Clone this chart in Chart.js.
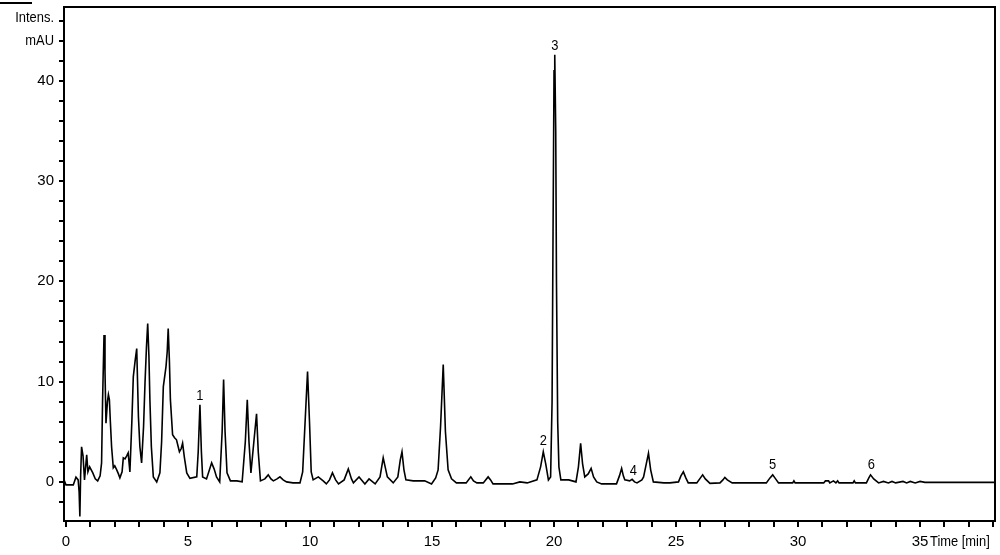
<!DOCTYPE html>
<html>
<head>
<meta charset="utf-8">
<script src="https://cdn.jsdelivr.net/npm/chart.js@4.4.1/dist/chart.umd.min.js"></script>
<style>
  html, body { margin: 0; padding: 0; background: #fff; }
  #wrap { width: 1000px; height: 555px; }
</style>
</head>
<body>
<div id="wrap"><canvas id="chrom" width="1000" height="555"></canvas></div>
<script>
// retention time (min) and signal (mAU)
const times = [
  -0.08, 0.0, 0.3, 0.41, 0.5, 0.54, 0.57, 0.6, 0.64, 0.7, 0.76, 0.85, 0.9, 0.97, 1.1, 1.2, 1.3, 1.4, 1.46, 1.5,
  1.56, 1.6, 1.64, 1.7, 1.74, 1.78, 1.82, 1.87, 1.94, 2.0, 2.08, 2.15, 2.21, 2.3, 2.35, 2.42, 2.49, 2.55, 2.62, 2.7,
  2.76, 2.84, 2.9, 2.97, 3.03, 3.1, 3.18, 3.24, 3.3, 3.35, 3.4, 3.44, 3.5, 3.58, 3.72, 3.85, 3.92, 3.99, 4.1, 4.15,
  4.19, 4.24, 4.28, 4.37, 4.45, 4.53, 4.65, 4.72, 4.78, 4.85, 4.95, 5.08, 5.36, 5.42, 5.49, 5.55, 5.6, 5.76, 5.88, 5.97,
  6.07, 6.17, 6.3, 6.4, 6.46, 6.52, 6.6, 6.74, 7.0, 7.22, 7.35, 7.43, 7.5, 7.58, 7.7, 7.81, 7.88, 7.97, 8.15, 8.29,
  8.4, 8.5, 8.65, 8.77, 8.9, 9.04, 9.3, 9.59, 9.7, 9.8, 9.9, 9.98, 10.05, 10.13, 10.34, 10.54, 10.67, 10.8, 10.92, 11.05,
  11.17, 11.4, 11.57, 11.7, 11.78, 12.01, 12.25, 12.42, 12.67, 12.87, 13.0, 13.08, 13.17, 13.41, 13.6, 13.7, 13.77, 13.85, 13.93, 14.23,
  14.7, 14.98, 15.15, 15.25, 15.35, 15.46, 15.55, 15.66, 15.8, 16.0, 16.4, 16.59, 16.7, 16.84, 17.1, 17.3, 17.4, 17.5, 18.3, 18.6,
  18.9, 19.3, 19.45, 19.56, 19.66, 19.77, 19.86, 19.92, 19.96, 20.0, 20.03, 20.07, 20.1, 20.15, 20.2, 20.28, 20.6, 20.9, 21.0, 21.09,
  21.17, 21.26, 21.4, 21.52, 21.62, 21.75, 21.95, 22.56, 22.68, 22.77, 22.84, 22.9, 23.1, 23.2, 23.3, 23.4, 23.6, 23.67, 23.78, 23.87,
  23.96, 24.07, 24.5, 24.75, 25.1, 25.2, 25.3, 25.4, 25.5, 25.85, 26.0, 26.09, 26.2, 26.39, 26.8, 26.92, 27.0, 27.1, 27.3, 28.7,
  28.85, 28.96, 29.08, 29.2, 29.78, 29.83, 29.88, 31.05, 31.12, 31.25, 31.3, 31.45, 31.55, 31.62, 31.68, 32.25, 32.3, 32.35, 32.8, 32.9,
  32.97, 33.1, 33.3, 33.5, 33.7, 33.85, 34.0, 34.3, 34.45, 34.6, 34.8, 35.0, 35.2, 38.07
];
const intensity = [
  0.2, -0.3, -0.3, 0.47, 0.2, -1.0, -3.46, 0.5, 3.5, 2.6, 0.2, 2.7, 1.0, 1.5, 0.9, 0.3, 0.1, 0.6, 1.9, 8,
  14.65, 11, 5.85, 8.0, 8.7, 8.2, 6, 3.5, 1.4, 1.6, 1.2, 0.8, 0.4, 1.0, 2.4, 2.3, 2.6, 2.9, 1.0, 6,
  10.5, 12.2, 13.3, 6.5, 3.5, 1.9, 5.5, 9.9, 13.5, 15.8, 12.5, 8.2, 3.5, 0.5, 0.0, 0.9, 4, 9.5, 11.5, 13,
  15.3, 12, 8.2, 4.7, 4.4, 4.2, 3.0, 3.3, 3.85, 2.5, 0.9, 0.35, 0.5, 3, 7.7, 3, 0.5, 0.3, 1.2, 1.9,
  1.3, 0.5, 0.0, 5, 10.2, 5, 0.9, 0.1, 0.1, 0.0, 4, 8.2, 4, 0.9, 4, 6.8, 3, 0.1, 0.3, 0.7,
  0.3, 0.1, 0.3, 0.5, 0.2, 0.0, -0.1, -0.1, 1, 6, 11.0, 6, 1, 0.2, 0.5, 0.1, -0.2, 0.2, 0.9, 0.2,
  -0.2, 0.2, 1.3, 0.3, -0.1, 0.5, -0.2, 0.3, -0.2, 0.5, 2.4, 1.5, 0.5, -0.1, 0.5, 2.2, 3.0, 1.2, 0.2, 0.1,
  0.1, -0.2, 0.4, 1.2, 5.5, 11.7, 5, 1.2, 0.3, -0.1, -0.1, 0.5, 0.1, -0.1, -0.1, 0.5, 0.2, -0.2, -0.2, 0.0,
  -0.1, 0.2, 1.5, 3.0, 1.8, 0.2, 0.5, 8, 25, 41, 42.6, 35, 20, 6, 1.5, 0.2, 0.2, 0, 1.5, 3.85,
  1.8, 0.5, 0.8, 1.35, 0.5, 0, -0.2, -0.2, 0.6, 1.35, 0.6, 0.2, 0.1, 0.25, 0, -0.1, 0.2, 0.5, 1.8, 2.85,
  1.2, 0, -0.1, -0.1, 0, 0.6, 1.0, 0.4, -0.1, -0.1, 0.4, 0.7, 0.3, -0.15, -0.1, 0.2, 0.45, 0.2, -0.1, -0.1,
  0.4, 0.7, 0.3, -0.1, -0.1, 0.1, -0.1, -0.1, 0.1, 0.1, -0.1, 0.1, -0.1, 0.1, -0.1, -0.1, 0.1, -0.1, -0.1, 0.4,
  0.7, 0.3, -0.1, 0.05, -0.1, 0.05, -0.1, 0.05, -0.1, 0.05, -0.1, 0.05, -0.05, -0.05
];

// numbered peaks: label, time, label height
const peakNames = ['1', '2', '3', '4', '5', '6'];
const peakTimes = [5.49, 19.56, 20.03, 23.25, 28.96, 33.0];
const peakLabelY = [8.6, 4.1, 43.5, 1.1, 1.7, 1.7];

const xTickValues = [];
for (let i = 0; i <= 38; i++) xTickValues.push(i);
const yTickValues = [];
for (let v = -2; v <= 46; v += 2) yTickValues.push(v);

const FONT = '"Liberation Sans Narrow", "Liberation Sans", Arial, sans-serif';

// narrow-looking text: squeeze horizontally
function narrowText(ctx, txt, x, y, align) {
  ctx.save();
  ctx.translate(x, y);
  ctx.scale(0.86, 1);
  ctx.textAlign = align;
  ctx.fillText(txt, 0, 0);
  ctx.restore();
}

const decor = {
  id: 'decor',
  afterDraw(chart) {
    const { ctx, chartArea: a, scales } = chart;
    ctx.save();
    ctx.strokeStyle = '#000';
    ctx.lineWidth = 2;
    ctx.beginPath();
    ctx.moveTo(a.left - 1, a.top);
    ctx.lineTo(a.right, a.top);
    ctx.lineTo(a.right, a.bottom + 1);
    ctx.stroke();
    // short line top-left
    ctx.beginPath();
    ctx.moveTo(0, 3);
    ctx.lineTo(32, 3);
    ctx.stroke();

    ctx.fillStyle = '#000';
    ctx.font = '15px ' + FONT;
    ctx.textBaseline = 'middle';
    narrowText(ctx, 'Intens.', 54, 18, 'right');
    narrowText(ctx, 'mAU', 54, 41, 'right');
    narrowText(ctx, 'Time [min]', 930, 542, 'left');

    peakNames.forEach((n, i) => {
      narrowText(ctx, n, scales.x.getPixelForValue(peakTimes[i]), scales.y.getPixelForValue(peakLabelY[i]), 'center');
    });
    ctx.restore();
  }
};

new Chart(document.getElementById('chrom'), {
  type: 'line',
  data: {
    datasets: [{
      data: times.map((t, i) => ({ x: t, y: intensity[i] })),
      borderColor: '#000',
      borderWidth: 1.6,
      pointRadius: 0,
      tension: 0,
      fill: false
    }]
  },
  options: {
    responsive: false,
    animation: false,
    layout: { padding: { top: 7, right: 5, left: 0, bottom: 0 } },
    plugins: { legend: { display: false }, tooltip: { enabled: false } },
    scales: {
      x: {
        type: 'linear',
        min: -0.08,
        max: 38.07,
        afterBuildTicks: s => { s.ticks = xTickValues.map(v => ({ value: v })); },
        afterFit: s => { s.height = 34; s.paddingLeft = 0; s.paddingRight = 0; },
        grid: { display: true, drawOnChartArea: false, drawTicks: true, tickLength: 6, color: '#000', lineWidth: 2 },
        border: { display: true, color: '#000', width: 2 },
        ticks: {
          autoSkip: false, maxRotation: 0, padding: 6, color: '#000',
          font: { family: FONT, size: 15 },
          callback: v => (v % 5 === 0 && v <= 35) ? String(v) : ''
        }
      },
      y: {
        min: -3.9,
        max: 47.36,
        afterBuildTicks: s => { s.ticks = yTickValues.map(v => ({ value: v })); },
        afterFit: s => { s.width = 64; s.paddingTop = 0; s.paddingBottom = 0; },
        grid: { display: true, drawOnChartArea: false, drawTicks: true, tickLength: 5, color: '#000', lineWidth: 2 },
        border: { display: true, color: '#000', width: 2 },
        ticks: {
          autoSkip: false, padding: 5, color: '#000',
          font: { family: FONT, size: 15 },
          callback: v => (v % 10 === 0) ? String(v) : ''
        }
      }
    }
  },
  plugins: [decor]
});
</script>
</body>
</html>
